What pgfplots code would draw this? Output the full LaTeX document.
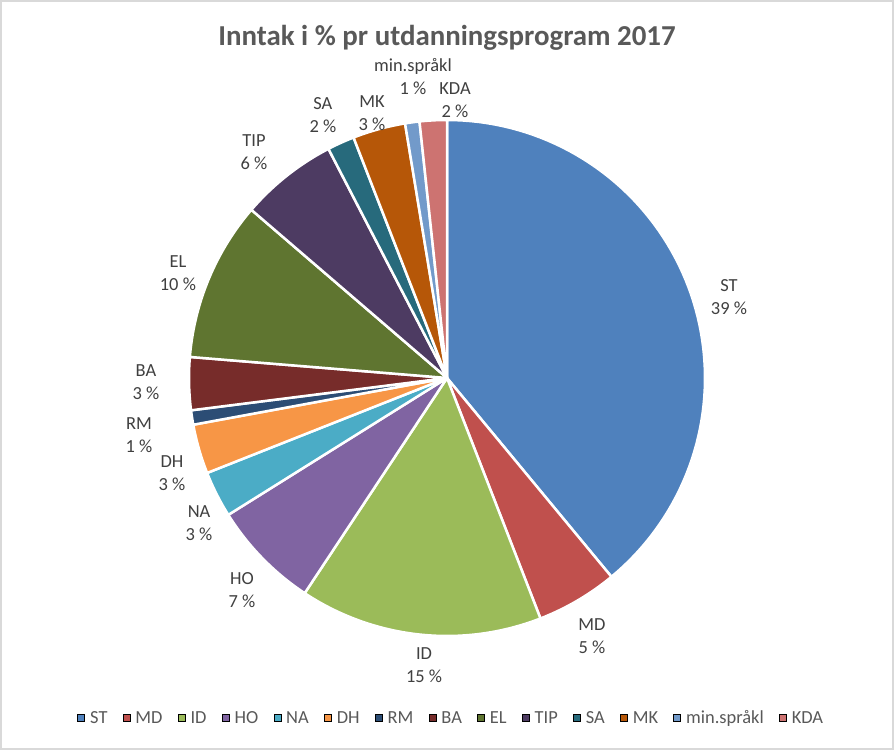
\documentclass[border=0pt]{standalone}
\usepackage{pgfplots}
\pgfplotsset{compat=1.18}
\usepackage{pgfplotstable}
\usepackage{fontspec}
\setmainfont{Carlito}
\definecolor{cST}{HTML}{4F81BD}
\definecolor{cMD}{HTML}{C0504D}
\definecolor{cID}{HTML}{9BBB59}
\definecolor{cHO}{HTML}{8064A2}
\definecolor{cNA}{HTML}{4BACC6}
\definecolor{cDH}{HTML}{F79646}
\definecolor{cRM}{HTML}{2C4D75}
\definecolor{cBA}{HTML}{772C2A}
\definecolor{cEL}{HTML}{5F7530}
\definecolor{cTIP}{HTML}{4D3B62}
\definecolor{cSA}{HTML}{276A7C}
\definecolor{cMK}{HTML}{B65708}
\definecolor{cMS}{HTML}{729ACA}
\definecolor{cKDA}{HTML}{CD7371}
\definecolor{titlegray}{HTML}{595959}
\definecolor{labgray}{HTML}{404040}
\definecolor{framegray}{HTML}{D9D9D9}
\pgfplotstableread[col sep=comma]{
name,value,pct,lx,ly,col
ST,39.0,39,1.093,0.314,cST
MD,5.1,5,0.562,-1.0,cMD
ID,15.2,15,-0.089,-1.112,cID
HO,6.8,7,-0.795,-0.822,cHO
NA,2.9,3,-0.961,-0.562,cNA
DH,3.1,3,-1.066,-0.368,cDH
RM,0.9,1,-1.194,-0.221,cRM
BA,3.3,3,-1.167,-0.016,cBA
EL,10.0,10,-1.043,0.407,cEL
TIP,6.1,6,-0.748,0.876,cTIP
SA,1.7,2,-0.481,1.019,cSA
MK,3.3,3,-0.291,1.027,cMK
min.språkl,0.9,1,-0.132,1.167,cMS
KDA,1.7,2,0.031,1.078,cKDA
}\piedata
\begin{document}
\begin{tikzpicture}[x=1bp,y=1bp]
\fill[white] (0,0) rectangle (894,750);
\begin{axis}[at={(447bp,372bp)}, anchor=center,
  width=516bp, height=516bp, scale only axis,
  xmin=-1, xmax=1, ymin=-1, ymax=1, hide axis, clip=false,
  title={Inntak i \% pr utdanningsprogram 2017},
  title style={at={(0.5,1.147)}, anchor=center, font=\fontsize{29}{34}\selectfont\bfseries, text=titlegray},
  legend columns=14,
  legend style={at={(0.508,-0.159)}, anchor=center, draw=none, fill=none,
    font=\fontsize{18.5}{21}\selectfont, text=titlegray,
    nodes={inner sep=2.5bp},
    /tikz/every even column/.append style={column sep=12bp}},
  legend image code/.code={\fill[#1] (0bp,-3.5bp) rectangle (7bp,3.5bp); \path[draw=none,fill=none] (-1bp,0bp) -- (10bp,0bp);},
]
\pgfplotstablegetrowsof{\piedata}
\pgfmathtruncatemacro{\N}{\pgfplotsretval-1}
\def\cum{0}
\pgfplotsforeachungrouped \i in {0,...,\N}{%
  \pgfplotstablegetelem{\i}{value}\of\piedata \let\v\pgfplotsretval
  \pgfplotstablegetelem{\i}{col}\of\piedata \let\c\pgfplotsretval
  \pgfplotstablegetelem{\i}{name}\of\piedata \let\nm\pgfplotsretval
  \pgfplotstablegetelem{\i}{pct}\of\piedata \let\pc\pgfplotsretval
  \pgfplotstablegetelem{\i}{lx}\of\piedata \let\lx\pgfplotsretval
  \pgfplotstablegetelem{\i}{ly}\of\piedata \let\ly\pgfplotsretval
  \pgfmathsetmacro{\a}{90-3.6*\cum}%
  \pgfmathsetmacro{\b}{90-3.6*(\cum+\v)}%
  \edef\temp{\noexpand\filldraw[fill=\c, draw=white, line width=2.5bp, line join=round]
    (axis cs:0,0) -- plot[domain=\a:\b, samples=80] (axis cs:{cos(\noexpand\x)},{sin(\noexpand\x)}) -- cycle;
    \noexpand\node[align=center, text=labgray, font=\noexpand\fontsize{18.5}{23}\noexpand\selectfont] at (axis cs:\lx,\ly) {\nm\noexpand\\\pc\space\noexpand\%};
    \noexpand\addlegendimage{fill=\c}
    \noexpand\addlegendentry{\nm}}%
  \temp
  \pgfmathsetmacro{\cum}{\cum+\v}%
}
\end{axis}
\draw[framegray, line width=2bp] (1,1) rectangle (893,749);
\end{tikzpicture}
\end{document}
